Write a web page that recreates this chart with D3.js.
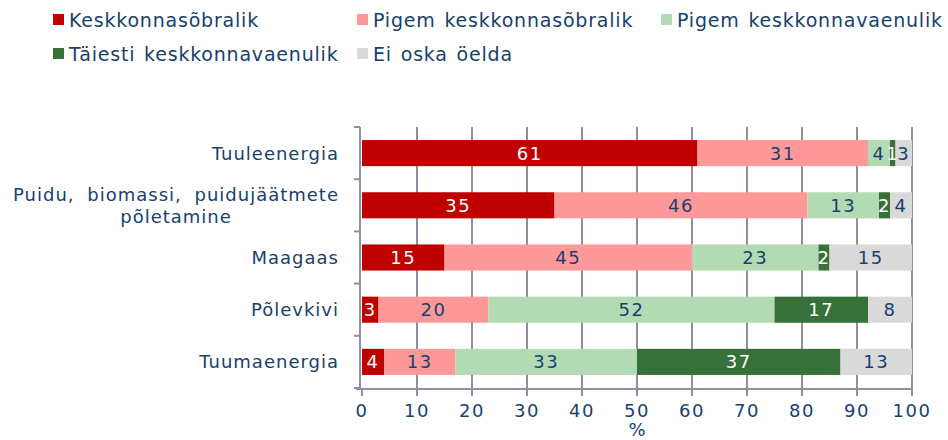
<!DOCTYPE html>
<html>
<head>
<meta charset="utf-8">
<script src="https://cdn.jsdelivr.net/npm/d3@7"></script>
<style>
  body { margin: 0; background: #fff; }
  text { font-family: "DejaVu Sans", Verdana, sans-serif; fill: #183f6e; }
</style>
</head>
<body>
<div id="chart"></div>
<script>
// data
var categories = ["Tuuleenergia", "Puidu, biomassi, puidujäätmete|põletamine", "Maagaas", "Põlevkivi", "Tuumaenergia"];
var seriesNames = ["Keskkonnasõbralik", "Pigem keskkonnasõbralik", "Pigem keskkonnavaenulik", "Täiesti keskkonnavaenulik", "Ei oska öelda"];
var keskkonnasobralik = [61, 35, 15, 3, 4];
var pigemSobralik = [31, 46, 45, 20, 13];
var pigemVaenulik = [4, 13, 23, 52, 33];
var taiestiVaenulik = [1, 2, 2, 17, 37];
var eiOska = [3, 4, 15, 8, 13];
var xTicks = [0, 10, 20, 30, 40, 50, 60, 70, 80, 90, 100];

var colors = ["#c00000", "#ff9999", "#b3dbb3", "#38703a", "#d9d9d9"];
var labelColors = ["#fff", "#183f6e", "#183f6e", "#fff", "#183f6e"];
var allSeries = [keskkonnasobralik, pigemSobralik, pigemVaenulik, taiestiVaenulik, eiOska];

const width = 948, height = 440;
var svg = d3.select("#chart").append("svg")
  .attr("width", width)
  .attr("height", height);

var x_scale = d3.scaleLinear().domain([0, 100]).range([362, 912]);
var y_scale = d3.scaleBand().domain(categories).range([127, 388]).paddingInner(0.5).paddingOuter(0.25);

// gridlines
svg.append("g").selectAll("line")
  .data(xTicks.slice(1))
  .join("line")
  .attr("x1", d => x_scale(d)).attr("x2", d => x_scale(d))
  .attr("y1", 127).attr("y2", 389)
  .attr("stroke", "#8b91a2").attr("stroke-width", 2);

// stacked bars
var rows = categories.map((c, i) => {
  var acc = 0;
  return allSeries.map((s, k) => {
    var seg = {cat: c, k: k, v: s[i], x0: acc, x1: acc + s[i]};
    acc += s[i];
    return seg;
  });
});
var segs = rows.flat();

svg.append("g").selectAll("rect")
  .data(segs)
  .join("rect")
  .attr("x", d => x_scale(d.x0))
  .attr("width", d => x_scale(d.x1) - x_scale(d.x0))
  .attr("y", d => y_scale(d.cat))
  .attr("height", y_scale.bandwidth())
  .attr("fill", d => colors[d.k]);

svg.append("g").selectAll("text")
  .data(segs)
  .join("text")
  .attr("x", d => x_scale((d.x0 + d.x1) / 2))
  .attr("y", d => y_scale(d.cat) + y_scale.bandwidth() / 2)
  .attr("dy", "0.36em")
  .attr("text-anchor", "middle")
  .style("font-size", "18px")
  .style("letter-spacing", "1.5px")
  .style("fill", d => labelColors[d.k])
  .text(d => d.v);

// y axis
var axisColor = "#8b91a2";
svg.append("line")
  .attr("x1", 360).attr("x2", 360).attr("y1", 127).attr("y2", 389)
  .attr("stroke", axisColor).attr("stroke-width", 2);
var bounds = categories.map(c => y_scale(c) - y_scale.step() * 0.25).concat([388]);
svg.append("g").selectAll("line")
  .data(bounds)
  .join("line")
  .attr("x1", 354).attr("x2", 360)
  .attr("y1", d => d).attr("y2", d => d)
  .attr("stroke", axisColor).attr("stroke-width", 2);

// category labels
var catG = svg.append("g");
categories.forEach(c => {
  var lines = c.split("|");
  var cy = y_scale(c) + y_scale.bandwidth() / 2;
  var t = catG.append("text")
    .attr("y", cy)
    .style("font-size", "18px")
    .style("letter-spacing", "1px")
    .style("word-spacing", "6px");
  lines.forEach((l, i) => {
    t.append("tspan").attr("dy", i == 0 ? ((0.36 - (lines.length - 1) * 0.6) + "em") : "1.2em").text(l);
  });
  if (lines.length == 1) {
    t.attr("text-anchor", "end").selectAll("tspan").attr("x", 339);
  } else {
    var w = 0;
    t.selectAll("tspan").each(function () { w = Math.max(w, this.getComputedTextLength()); });
    t.attr("text-anchor", "middle").selectAll("tspan").attr("x", 339 - w / 2);
  }
});

// x axis
svg.append("line")
  .attr("x1", 356).attr("x2", 913).attr("y1", 389).attr("y2", 389)
  .attr("stroke", axisColor).attr("stroke-width", 2);
var xg = svg.append("g").selectAll("g").data(xTicks).join("g")
  .attr("transform", d => `translate(${x_scale(d)},389)`);
xg.append("line").attr("y2", 7).attr("stroke", axisColor).attr("stroke-width", 2);
xg.append("text")
  .attr("y", 22).attr("dy", "0.36em")
  .attr("text-anchor", "middle")
  .style("font-size", "18px")
  .style("letter-spacing", "1.5px")
  .text(d => d);
svg.append("text")
  .attr("x", x_scale(50)).attr("y", 430).attr("dy", "0.36em")
  .attr("text-anchor", "middle")
  .style("font-size", "18px")
  .text("%");

// legend
var legendPos = [[53, 20], [357, 20], [661, 20], [53, 54], [357, 54]];
var lg = svg.append("g").selectAll("g").data(seriesNames).join("g")
  .attr("transform", (d, i) => `translate(${legendPos[i][0]},${legendPos[i][1]})`);
lg.append("rect").attr("x", 0).attr("y", -6).attr("width", 11).attr("height", 11)
  .attr("fill", (d, i) => colors[i]);
lg.append("text").attr("x", 16).attr("dy", "0.36em")
  .style("font-size", "19px")
  .style("letter-spacing", "0.8px")
  .style("word-spacing", "2px")
  .text(d => d);
</script>
</body>
</html>
